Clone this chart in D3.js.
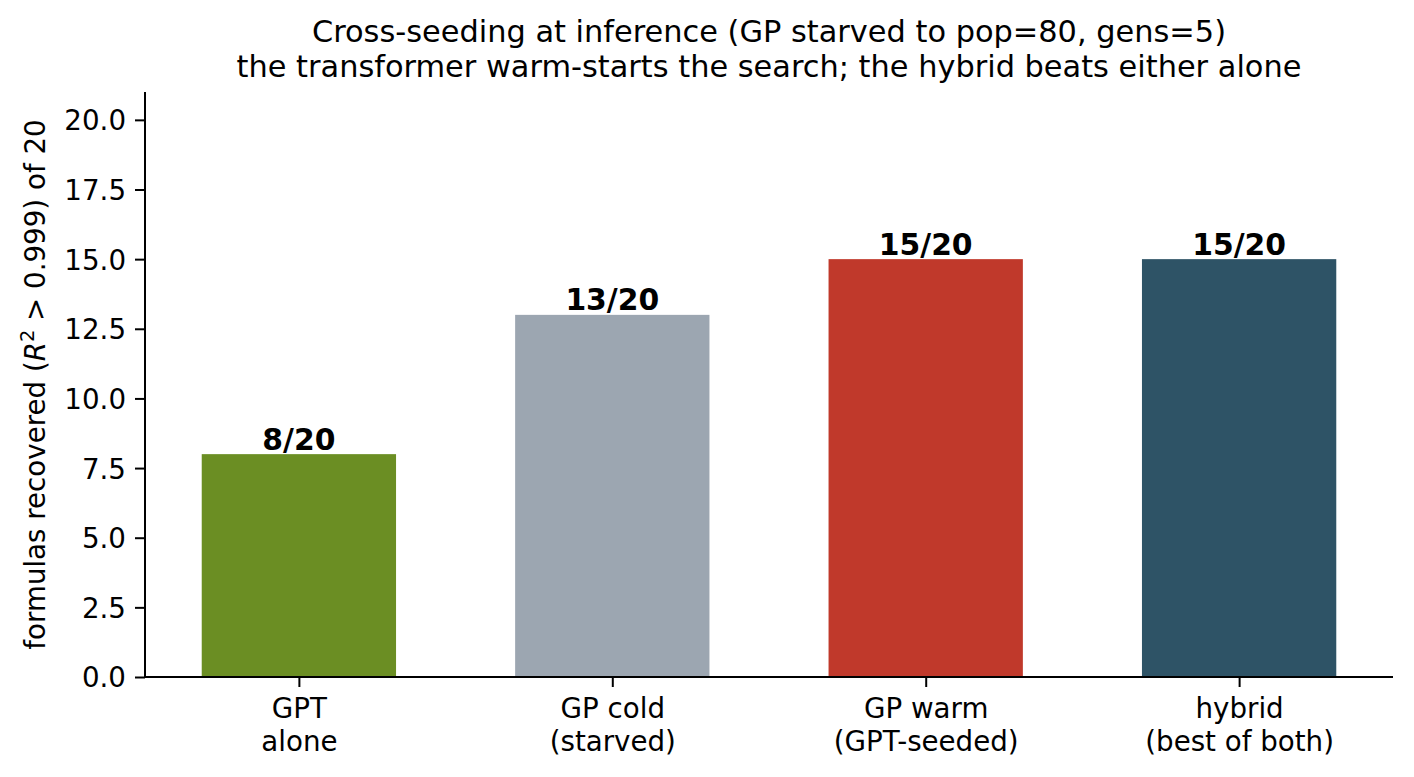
<!DOCTYPE html>
<html>
<head>
<meta charset="utf-8">
<script src="https://cdn.jsdelivr.net/npm/d3@7"></script>
<style>
  html, body { margin: 0; padding: 0; background: #fff; }
  svg { display: block; font-family: "DejaVu Sans", sans-serif; }
</style>
</head>
<body>
<svg id="chart" width="1414" height="777"></svg>
<script>
const categories = ["GPT\nalone", "GP cold\n(starved)", "GP warm\n(GPT-seeded)", "hybrid\n(best of both)"];
const values = [8, 13, 15, 15];
const totals = [20, 20, 20, 20];
const colors = ["#6b8e23", "#9ca6b1", "#c0392b", "#2e5366"];
const yTicks = [0, 2.5, 5, 7.5, 10, 12.5, 15, 17.5, 20];
const titleLines = ["Cross-seeding at inference (GP starved to pop=80, gens=5)",
                    "the transformer warm-starts the search; the hybrid beats either alone"];

const svg = d3.select("#chart");
const L = 145, R = 1393, T = 92, B = 677;
const FS = 27.7;
const barW = 0.62;
const pad = (categories.length - 1 + barW) * 0.05;
const x = d3.scaleLinear()
  .domain([-barW / 2 - pad, categories.length - 1 + barW / 2 + pad])
  .range([L, R]);
const y = d3.scaleLinear().domain([0, 21]).range([B, T]);

// bars
svg.append("g").selectAll("rect").data(values).join("rect")
  .attr("x", (d, i) => x(i - barW / 2))
  .attr("width", (d, i) => x(i + barW / 2) - x(i - barW / 2))
  .attr("y", d => y(d))
  .attr("height", d => y(0) - y(d))
  .attr("fill", (d, i) => colors[i]);

// value labels
svg.append("g").selectAll("text").data(values).join("text")
  .attr("x", (d, i) => x(i))
  .attr("y", d => y(d) - 4.5)
  .attr("text-anchor", "middle")
  .attr("font-weight", "bold")
  .attr("font-size", 29.8)
  .attr("fill", "#000")
  .text((d, i) => `${d}/${totals[i]}`);

// y axis
const yAxis = d3.axisLeft(y).tickValues(yTicks).tickFormat(d3.format(".1f")).tickSize(10).tickPadding(9);
const gy = svg.append("g").attr("transform", `translate(${L},0)`).call(yAxis);
gy.attr("font-size", null).attr("font-family", null);
gy.select(".domain").attr("d", `M0,${T}V${B}`).attr("stroke", "#000").attr("stroke-width", 2);
gy.selectAll(".tick line").attr("stroke", "#000").attr("stroke-width", 2);
gy.selectAll(".tick text").attr("font-size", FS).attr("fill", "#000").attr("dy", "0.36em");

// x axis
const xAxis = d3.axisBottom(x).tickValues(d3.range(categories.length)).tickSize(10).tickFormat("");
const gx = svg.append("g").attr("transform", `translate(0,${B})`).call(xAxis);
gx.attr("font-size", null).attr("font-family", null);
gx.select(".domain").attr("d", `M${L},0H${R}`).attr("stroke", "#000").attr("stroke-width", 2);
gx.selectAll(".tick line").attr("stroke", "#000").attr("stroke-width", 2);
gx.selectAll(".tick").each(function(d) {
  const lines = categories[d].split("\n");
  const t = d3.select(this).append("text")
    .attr("text-anchor", "middle")
    .attr("font-size", FS)
    .attr("fill", "#000");
  lines.forEach((ln, k) => {
    t.append("tspan").attr("x", 0).attr("y", 41 + k * 33).text(ln);
  });
});

// y label
const yl = svg.append("text")
  .attr("transform", `translate(45,${(T + B) / 2}) rotate(-90)`)
  .attr("text-anchor", "middle")
  .attr("font-size", FS)
  .attr("fill", "#000");
yl.append("tspan").text("formulas recovered (");
yl.append("tspan").attr("font-style", "italic").text("R");
yl.append("tspan").attr("font-size", FS * 0.7).attr("dy", -11).text("2");
yl.append("tspan").attr("dy", 11).text(" > 0.999) of 20");

// title
svg.append("g").selectAll("text").data(titleLines).join("text")
  .attr("x", (L + R) / 2)
  .attr("y", (d, i) => 42 + i * 35)
  .attr("text-anchor", "middle")
  .attr("font-size", 30.4)
  .attr("fill", "#000")
  .text(d => d);
</script>
</body>
</html>
